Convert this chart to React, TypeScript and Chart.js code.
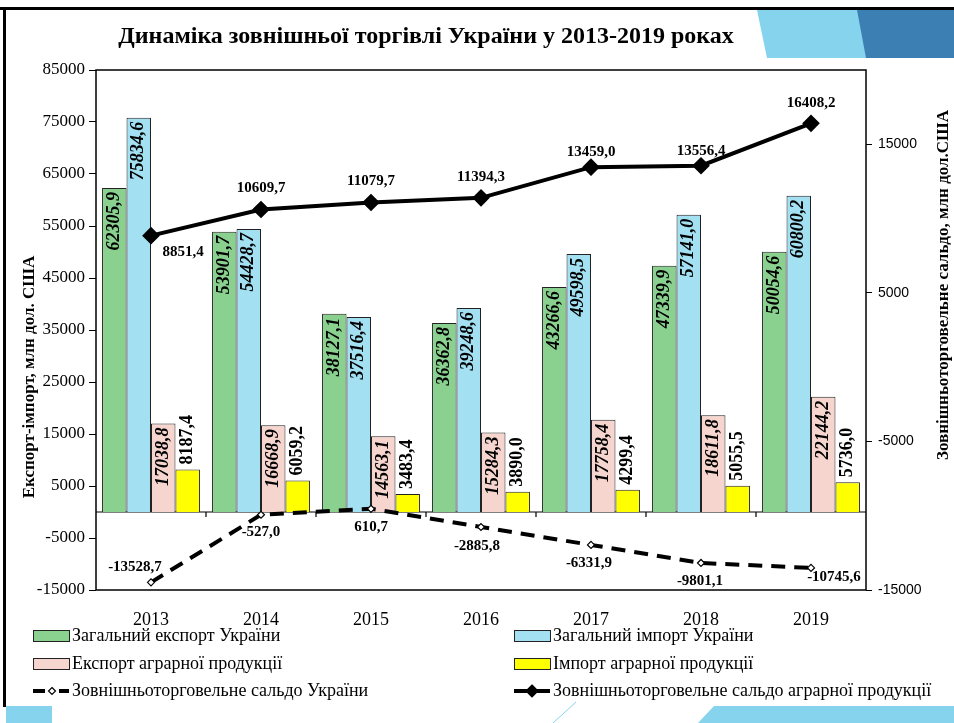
import React, { useEffect, useRef } from "react";
import { Chart, registerables } from "chart.js";

Chart.register(...registerables);

// ---------- data ----------
const chartTitle = "Динаміка зовнішньої торгівлі України у 2013-2019 роках";
const leftAxisTitle = "Експорт-імпорт, млн дол. США";
const rightAxisTitle = "Зовнішньоторговельне сальдо, млн дол.США";

const years = ["2013", "2014", "2015", "2016", "2017", "2018", "2019"];

const totalExport = [62305.9, 53901.7, 38127.1, 36362.8, 43266.6, 47339.9, 50054.6];
const totalImport = [75834.6, 54428.7, 37516.4, 39248.6, 49598.5, 57141.0, 60800.2];
const agroExport = [17038.8, 16668.9, 14563.1, 15284.3, 17758.4, 18611.8, 22144.2];
const agroImport = [8187.4, 6059.2, 3483.4, 3890.0, 4299.4, 5055.5, 5736.0];
const totalBalance = [-13528.7, -527.0, 610.7, -2885.8, -6331.9, -9801.1, -10745.6];
const agroBalance = [8851.4, 10609.7, 11079.7, 11394.3, 13459.0, 13556.4, 16408.2];

const leftTicks = [-15000, -5000, 5000, 15000, 25000, 35000, 45000, 55000, 65000, 75000, 85000];
const rightTicks = [-15000, -5000, 5000, 15000];

const seriesNames = [
  "Загальний експорт України",
  "Загальний імпорт України",
  "Експорт аграрної продукції",
  "Імпорт аграрної продукції",
  "Зовнішньоторговельне сальдо України",
  "Зовнішньоторговельне сальдо аграрної продукції",
];

// ---------- styles ----------
const SERIF = '"Liberation Serif", "Times New Roman", serif';
const SANS = '"Liberation Sans", Arial, sans-serif';
const barColors = ["#8AD18F", "#A2E0F2", "#F5D5CE", "#FFFF00"];
const barLabelInside = [true, true, true, false];
const barLabelItalic = [true, true, true, false];
// label offsets (dx, dy) relative to each point
const agroLabelOffsets = [[32, 16], [0, -21], [0, -21], [0, -21], [0, -15], [0, -15], [0, -20]];
const totalLabelOffsets = [[-16, -15], [0, 17], [0, 18], [-4, 19], [-2, 18], [-1, 18], [23, 9]];

const fmt = (v: number) => v.toFixed(1).replace(".", ",");

const W = 954;
const H = 723;

function diamond(ctx: CanvasRenderingContext2D, x: number, y: number, r: number, fill: string) {
  ctx.beginPath();
  ctx.moveTo(x, y - r);
  ctx.lineTo(x + r, y);
  ctx.lineTo(x, y + r);
  ctx.lineTo(x - r, y);
  ctx.closePath();
  ctx.fillStyle = fill;
  ctx.fill();
  ctx.strokeStyle = "#000";
  ctx.lineWidth = 1.2;
  ctx.stroke();
}

const decorPlugin = {
  id: "decor",
  beforeDraw(chart: any) {
    const ctx: CanvasRenderingContext2D = chart.ctx;
    ctx.save();
    ctx.fillStyle = "#fff";
    ctx.fillRect(0, 0, W, H);

    // top-right band
    ctx.fillStyle = "#86D3EE";
    ctx.beginPath();
    ctx.moveTo(757, 10);
    ctx.lineTo(W, 10);
    ctx.lineTo(W, 58);
    ctx.lineTo(767, 58);
    ctx.closePath();
    ctx.fill();
    ctx.fillStyle = "#3C7FB3";
    ctx.beginPath();
    ctx.moveTo(857, 10);
    ctx.lineTo(W, 10);
    ctx.lineTo(W, 58);
    ctx.lineTo(866, 58);
    ctx.closePath();
    ctx.fill();

    // bottom bands
    ctx.fillStyle = "#86D3EE";
    ctx.fillRect(6, 706, 46, 17);
    ctx.beginPath();
    ctx.moveTo(698, H);
    ctx.lineTo(714, 706);
    ctx.lineTo(W, 706);
    ctx.lineTo(W, H);
    ctx.closePath();
    ctx.fill();
    ctx.strokeStyle = "#86D3EE";
    ctx.lineWidth = 1;
    ctx.beginPath();
    ctx.moveTo(553, H);
    ctx.lineTo(576, 702);
    ctx.stroke();

    // frame
    ctx.fillStyle = "#000";
    ctx.fillRect(0, 7, W, 3);
    ctx.fillRect(3, 7, 3, 700);

    // title
    ctx.fillStyle = "#000";
    ctx.font = `bold 24px ${SERIF}`;
    ctx.textAlign = "center";
    ctx.textBaseline = "middle";
    ctx.fillText(chartTitle, 426, 37);

    // axis titles
    ctx.font = `bold 17px ${SERIF}`;
    ctx.save();
    ctx.translate(30, 377);
    ctx.rotate(-Math.PI / 2);
    ctx.fillText(leftAxisTitle, 0, 0);
    ctx.restore();
    ctx.save();
    ctx.translate(944, 285);
    ctx.rotate(-Math.PI / 2);
    ctx.fillText(rightAxisTitle, 0, 0);
    ctx.restore();

    ctx.restore();
  },
  beforeDatasetsDraw(chart: any) {
    const ctx: CanvasRenderingContext2D = chart.ctx;
    const { left, right } = chart.chartArea;
    const y0 = chart.scales.y.getPixelForValue(0);
    ctx.save();
    ctx.strokeStyle = "#000";
    ctx.lineWidth = 1.2;
    ctx.beginPath();
    ctx.moveTo(left, y0);
    ctx.lineTo(right, y0);
    const n = years.length;
    for (let i = 1; i < n; i++) {
      const x = left + (i * (right - left)) / n;
      ctx.moveTo(x, y0);
      ctx.lineTo(x, y0 + 5);
    }
    ctx.stroke();
    ctx.restore();
  },
  afterDatasetsDraw(chart: any) {
    const ctx: CanvasRenderingContext2D = chart.ctx;
    ctx.save();
    ctx.fillStyle = "#000";
    // bar labels
    for (let d = 0; d < 4; d++) {
      const meta = chart.getDatasetMeta(d);
      const data = chart.data.datasets[d].data as number[];
      ctx.font = `${barLabelItalic[d] ? "italic " : ""}bold 18px ${SERIF}`;
      ctx.textBaseline = "middle";
      meta.data.forEach((bar: any, i: number) => {
        ctx.save();
        if (barLabelInside[d]) {
          ctx.translate(bar.x, bar.y + 4);
          ctx.rotate(-Math.PI / 2);
          ctx.textAlign = "right";
        } else {
          ctx.translate(bar.x, bar.y - 5);
          ctx.rotate(-Math.PI / 2);
          ctx.textAlign = "left";
        }
        ctx.fillText(fmt(data[i]), 0, 0);
        ctx.restore();
      });
    }
    // line labels
    ctx.font = `bold 15px ${SERIF}`;
    ctx.textAlign = "center";
    ctx.textBaseline = "middle";
    const drawLineLabels = (idx: number, values: number[], offs: number[][]) => {
      const meta = chart.getDatasetMeta(idx);
      meta.data.forEach((pt: any, i: number) => {
        ctx.fillText(fmt(values[i]), pt.x + offs[i][0], pt.y + offs[i][1]);
      });
    };
    drawLineLabels(4, totalBalance, totalLabelOffsets);
    drawLineLabels(5, agroBalance, agroLabelOffsets);

    // plot box
    const { left, right, top, bottom } = chart.chartArea;
    ctx.strokeStyle = "#000";
    ctx.lineWidth = 1.5;
    ctx.strokeRect(left, top, right - left, bottom - top);
    ctx.restore();
  },
  afterDraw(chart: any) {
    const ctx: CanvasRenderingContext2D = chart.ctx;
    ctx.save();
    const cols = [33, 514];
    const rows = [636, 664, 691];
    const order = [0, 1, 2, 3, 4, 5];
    order.forEach((s, k) => {
      const x = cols[k % 2];
      const y = rows[Math.floor(k / 2)];
      if (s < 4) {
        ctx.fillStyle = barColors[s];
        ctx.fillRect(x, y - 6, 36, 11);
        ctx.strokeStyle = "#222";
        ctx.lineWidth = 1;
        ctx.strokeRect(x + 0.5, y - 5.5, 36, 11);
      } else if (s === 4) {
        ctx.strokeStyle = "#000";
        ctx.lineWidth = 4;
        ctx.beginPath();
        ctx.moveTo(x, y);
        ctx.lineTo(x + 12, y);
        ctx.moveTo(x + 26, y);
        ctx.lineTo(x + 36, y);
        ctx.stroke();
        diamond(ctx, x + 19, y, 3.5, "#fff");
      } else {
        ctx.strokeStyle = "#000";
        ctx.lineWidth = 4;
        ctx.beginPath();
        ctx.moveTo(x, y);
        ctx.lineTo(x + 36, y);
        ctx.stroke();
        diamond(ctx, x + 18, y, 6, "#000");
      }
      ctx.fillStyle = "#000";
      ctx.font = `18px ${SERIF}`;
      ctx.textAlign = "left";
      ctx.textBaseline = "middle";
      ctx.fillText(seriesNames[s], x + 39, y);
    });
    ctx.restore();
  },
};

export default function App() {
  const ref = useRef<HTMLCanvasElement | null>(null);

  useEffect(() => {
    if (!ref.current) return;
    const barDs = [totalExport, totalImport, agroExport, agroImport].map((arr, i) => ({
      type: "bar" as const,
      label: seriesNames[i],
      data: arr,
      backgroundColor: barColors[i],
      borderColor: "#222",
      borderWidth: 1,
      yAxisID: "y",
      order: 1,
      categoryPercentage: 0.89,
      barPercentage: 1.0,
    }));
    const chart = new Chart(ref.current, {
      type: "bar",
      data: {
        labels: years,
        datasets: [
          ...barDs,
          {
            type: "line",
            label: seriesNames[4],
            data: totalBalance,
            yAxisID: "y",
            borderColor: "#000",
            borderWidth: 4,
            borderDash: [14, 9],
            pointStyle: "rectRot",
            pointRadius: 3.5,
            pointBackgroundColor: "#fff",
            pointBorderColor: "#000",
            pointBorderWidth: 1.2,
            tension: 0,
            order: 0,
          },
          {
            type: "line",
            label: seriesNames[5],
            data: agroBalance,
            yAxisID: "y1",
            borderColor: "#000",
            borderWidth: 4,
            pointStyle: "rectRot",
            pointRadius: 6,
            pointBackgroundColor: "#000",
            pointBorderColor: "#000",
            tension: 0,
            order: 0,
          },
        ] as any,
      },
      options: {
        responsive: false,
        animation: false,
        devicePixelRatio: 1,
        layout: { padding: { top: 70, left: 0, right: 0, bottom: 0 } },
        plugins: {
          legend: { display: false },
          title: { display: false },
          tooltip: { enabled: false },
        },
        scales: {
          x: {
            type: "category",
            offset: true,
            grid: { display: false, drawTicks: false },
            border: { display: false },
            ticks: {
              font: { family: SERIF, size: 18 },
              color: "#000",
              padding: 19,
              maxRotation: 0,
              autoSkip: false,
            },
            afterFit: (s: any) => {
              s.height = 133;
            },
          },
          y: {
            type: "linear",
            position: "left",
            min: -15000,
            max: 85000,
            afterBuildTicks: (s: any) => {
              s.ticks = leftTicks.map((v) => ({ value: v }));
            },
            afterFit: (s: any) => {
              s.width = 96;
            },
            grid: { drawOnChartArea: false, drawTicks: true, tickLength: 7, color: "#000", lineWidth: 1 },
            border: { display: false },
            ticks: {
              font: { family: SERIF, size: 17 },
              color: "#000",
              padding: 4,
              callback: (v: any) => String(v),
            },
          },
          y1: {
            type: "linear",
            position: "right",
            min: -15000,
            max: 20000,
            afterBuildTicks: (s: any) => {
              s.ticks = rightTicks.map((v) => ({ value: v }));
            },
            afterFit: (s: any) => {
              s.width = 88;
            },
            grid: { drawOnChartArea: false, drawTicks: true, tickLength: 6, color: "#000", lineWidth: 1 },
            border: { display: false },
            ticks: {
              font: { family: SANS, size: 14 },
              color: "#000",
              padding: 6,
              callback: (v: any) => String(v),
            },
          },
        },
      } as any,
      plugins: [decorPlugin],
    });
    return () => chart.destroy();
  }, []);

  return (
    <div style={{ position: "absolute", left: 0, top: 0, width: W, height: H, background: "#fff" }}>
      <canvas ref={ref} width={W} height={H} style={{ width: W, height: H, display: "block" }} />
    </div>
  );
}
